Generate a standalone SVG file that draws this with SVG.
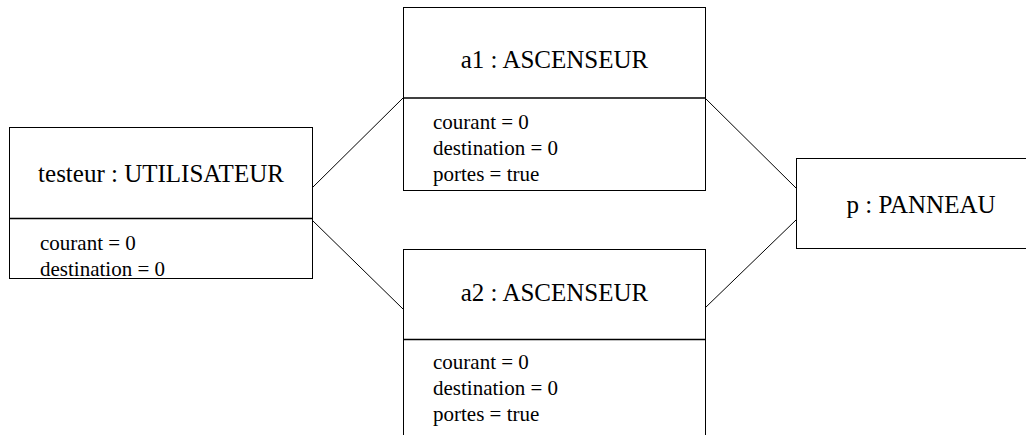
<svg xmlns="http://www.w3.org/2000/svg" width="1026" height="435" viewBox="0 0 1026 435">
<style>
.box{fill:#fff;stroke:#000;stroke-width:1}
.div{stroke:#000;stroke-width:1.3}
.t{font-family:"Liberation Serif",serif;font-size:25px;fill:#000;text-anchor:middle}
.a{font-family:"Liberation Serif",serif;font-size:21px;fill:#000}
.c{stroke:#000;stroke-width:1;fill:none}
</style>
<rect width="1026" height="435" fill="#fff"/>
<g id="connectors">
<line class="c" x1="312" y1="188" x2="403" y2="98"/>
<line class="c" x1="312" y1="220" x2="403" y2="309"/>
<line class="c" x1="705" y1="98" x2="796" y2="188"/>
<line class="c" x1="705" y1="308" x2="796" y2="220"/>
</g>
<g id="testeur">
<rect class="box" x="9.5" y="127.5" width="303" height="151"/>
<line class="div" x1="9.5" y1="218.5" x2="312.5" y2="218.5"/>
<text class="t" x="161" y="182">testeur : UTILISATEUR</text>
<text class="a" x="40" y="250">courant = 0</text>
<text class="a" x="40" y="276">destination = 0</text>
</g>
<g id="a1">
<rect class="box" x="403.5" y="7.5" width="302" height="183"/>
<line class="div" x1="403.5" y1="98" x2="705.5" y2="98"/>
<text class="t" x="554.5" y="68">a1 : ASCENSEUR</text>
<text class="a" x="433" y="129">courant = 0</text>
<text class="a" x="433" y="155">destination = 0</text>
<text class="a" x="433" y="181">portes = true</text>
</g>
<g id="a2">
<rect class="box" x="403.5" y="249.5" width="302" height="200"/>
<line class="div" x1="403.5" y1="339.5" x2="705.5" y2="339.5"/>
<text class="t" x="554.5" y="301">a2 : ASCENSEUR</text>
<text class="a" x="433" y="369">courant = 0</text>
<text class="a" x="433" y="395">destination = 0</text>
<text class="a" x="433" y="421">portes = true</text>
</g>
<g id="p">
<rect class="box" x="796.5" y="158.5" width="250" height="90"/>
<text class="t" x="921" y="213">p : PANNEAU</text>
</g>
</svg>
